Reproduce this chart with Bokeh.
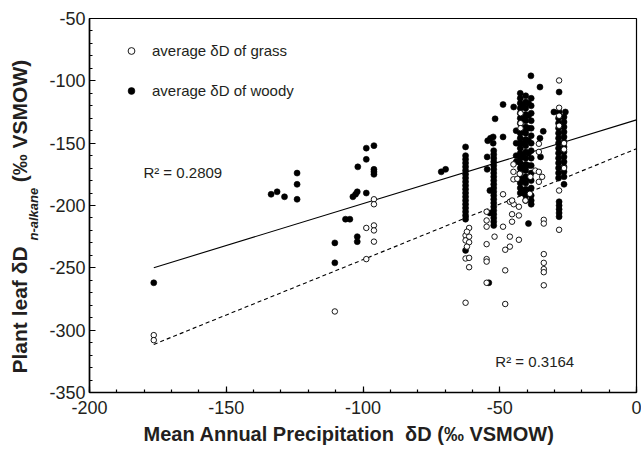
import numpy as np
from bokeh.plotting import figure
from bokeh.models import Label, Legend, LegendItem, FixedTicker, Range1d, Title
from bokeh.embed import file_html
from bokeh.resources import INLINE

# ---------------- data ----------------
woody_x = [
    -176.5,
    -133.6, -131.4, -128.7, -124.1, -124.1, -124.1,
    -110.3, -110.3, -106.4, -104.8, -103.7, -102.7, -102.1, -101.9, -102.1, -102.1,
    -98.8, -98.8, -98.8, -96.0, -96.0, -96.0, -96.0,
    -71.4, -69.8,
    -62.5, -62.5, -62.5, -62.5, -62.5, -62.5, -62.5, -62.5, -62.5, -62.5,
    -62.5, -62.5, -62.5, -62.5, -62.5, -62.5, -62.5, -62.5, -62.5, -62.5,
    -54.6, -54.6, -54.4, -53.4, -52.4, -52.4, -53.6, -53.6, -54.0, -51.7,
    -52.2, -52.2, -52.2, -52.2, -52.2, -52.2, -52.2, -52.2, -52.2, -52.2, -52.2,
    -52.2, -52.2, -52.2, -52.2, -52.2, -52.2, -52.2, -52.2, -52.2, -52.2,
    -48.8, -48.8, -44.9, -38.6, -35.3, -34.1, -35.3, -35.1, -39.5,
    -44.0, -44.0, -44.0, -44.0,
    -42.5, -42.5, -42.5, -42.5, -42.5, -42.5, -42.5, -42.5, -42.5, -42.5,
    -42.5, -42.5, -42.5, -42.5, -42.5, -42.5, -42.5, -42.5, -42.5, -42.5,
    -41.5, -41.5, -41.5, -41.5, -41.5, -41.5, -41.5, -41.5,
    -40.5, -40.5, -40.5, -40.5, -40.5, -40.5, -40.5, -40.5, -40.5,
    -40.5, -40.5, -40.5, -40.5, -40.5, -40.5, -40.5, -40.5, -40.5,
    -39.5, -39.5, -39.5, -39.5, -39.5, -39.5, -39.5, -39.5,
    -38.5, -38.5, -38.5, -38.5, -38.5, -38.5, -38.5, -38.5,
    -38.5, -38.5, -38.5, -38.5, -38.5, -38.5, -38.5, -38.5,
    -28.3, -30.2, -28.3, -26.0,
    -28.5, -28.5, -28.5, -28.5, -28.5, -28.5, -28.5, -28.5, -28.5, -28.5, -28.5, -28.5, -28.5,
    -26.5, -26.5, -26.5, -26.5, -26.5, -26.5, -26.5, -26.5, -26.5, -26.5, -26.5, -26.5, -26.5, -26.5,
    -28.3, -28.3, -28.3, -28.3, -28.3,
]
woody_y = [
    -262,
    -191, -189, -193, -174, -183, -195,
    -230, -246, -211, -211, -193, -191, -189, -169, -225, -229,
    -154, -163, -190, -152, -171, -173, -175,
    -173, -171,
    -153, -160, -163, -166, -169, -172, -175, -178, -181, -184,
    -187, -190, -193, -196, -199, -202, -205, -208, -211, -236,
    -161, -171, -148, -146, -145, -150, -188, -206, -262, -130.5,
    -156, -159, -162, -165, -168, -171, -174, -177, -180, -183, -186,
    -189, -192, -195, -198, -201, -204, -207, -210, -213, -216,
    -119, -145, -121, -96, -105, -140.5, -146, -161, -214.5,
    -140, -150, -160, -165,
    -110, -114, -118, -122, -126, -130, -134, -142, -146, -150,
    -154, -158, -162, -166, -170, -174, -178, -182, -186, -190,
    -120, -130, -140, -150, -160, -170, -180, -190,
    -112, -117, -122, -127, -132, -137, -142, -147, -152,
    -157, -162, -167, -172, -177, -182, -187, -192, -196,
    -118, -128, -138, -148, -158, -168, -178, -188,
    -114, -120, -126, -132, -138, -144, -150, -156,
    -162, -168, -174, -180, -186, -192, -196, -199,
    -109, -125, -125, -125,
    -130, -134, -138, -142, -146, -150, -154, -158, -162, -166, -170, -174, -178,
    -129, -133, -137, -141, -145, -149, -153, -157, -161, -165, -169, -173, -177, -183,
    -197, -200, -203, -206, -209,
]

grass_x = [
    -176.5, -176.5,
    -110.3,
    -98.8, -98.8, -96.0, -96.0, -96.0, -96.0, -96.0,
    -61.2, -62.5, -61.2, -62.5, -61.2, -62.5, -61.2, -61.2, -62.5, -62.0, -62.0,
    -54.8, -54.8, -54.8, -54.8, -54.8, -54.8, -54.8,
    -51.9,
    -48.8, -48.8, -48.0, -48.0, -48.0,
    -46.3, -46.3, -46.3,
    -45.0, -45.0, -45.0, -44.9, -45.5, -45.5, -45.5,
    -43.0, -43.0, -43.0, -43.6, -42.7,
    -42.4, -42.4, -42.4,
    -40.6, -39.0, -38.8, -37.0,
    -35.7, -35.7, -35.7, -35.7, -34.5,
    -33.9, -33.9, -33.9, -33.9, -33.9, -33.9, -33.9,
    -28.3, -28.3, -28.3, -28.3, -26.5, -26.5, -26.5, -28.3, -28.3,
]
grass_y = [
    -304, -308,
    -285,
    -218, -243, -195, -199, -216, -220, -229,
    -218, -224, -225, -228, -229.5, -242.5, -242, -249.5, -278, -221, -233,
    -205, -212, -217, -231, -243, -245, -262,
    -225,
    -191, -217, -235.5, -252, -279,
    -225, -233, -197,
    -167, -173, -179, -199, -196, -207, -213,
    -201, -208, -227.5, -178.6, -174.6,
    -126, -134, -138,
    -196, -190.6, -177, -172,
    -150.5, -157, -173, -181, -177,
    -211.5, -214.5, -239, -246, -251, -253.5, -264,
    -99.7, -121.6, -128, -136, -150, -155, -170, -188, -219.5,
]

x_ticks = [-200, -150, -100, -50, 0]
y_ticks = [-350, -300, -250, -200, -150, -100, -50]

woody_slope, woody_intercept = 0.672, -131.3
grass_slope, grass_intercept = 0.889, -154.5
woody_r2 = "R² = 0.2809"
grass_r2 = "R² = 0.3164"

x_title = "Mean Annual Precipitation\u00a0\u00a0δD (‰ VSMOW)"
y_title = "Plant leaf δD" + "\u00a0" * 11 + "(‰ VSMOW)"
y_subscript = "n-alkane"

FONT = "Liberation Sans"
INK = "#231f20"

# ---------------- main plot ----------------
p = figure(width=641, height=450, x_range=Range1d(-200, 0), y_range=Range1d(-350, -50),
           output_backend="svg", toolbar_location=None,
           min_border_left=89, min_border_right=5, min_border_top=18, min_border_bottom=58)
p.xgrid.visible = False
p.ygrid.visible = False
p.outline_line_color = "black"
p.outline_line_width = 1.2
p.background_fill_color = "white"
p.border_fill_color = "white"

p.xaxis.ticker = FixedTicker(ticks=x_ticks, minor_ticks=list(range(-200, 1, 10)))
p.yaxis.ticker = FixedTicker(ticks=y_ticks, minor_ticks=list(range(-350, -49, 10)))
p.xaxis.major_label_overrides = {t: str(t) for t in x_ticks}
p.yaxis.major_label_overrides = {t: str(t) for t in y_ticks}
for ax in (p.xaxis, p.yaxis):
    ax.axis_line_width = 1.6
    ax.axis_line_color = "black"
    ax.major_tick_in = 6
    ax.major_tick_out = 0
    ax.minor_tick_in = 3
    ax.minor_tick_out = 0
    ax.major_tick_line_width = 1.2
    ax.minor_tick_line_width = 1.2
    ax.major_tick_line_color = "black"
    ax.minor_tick_line_color = "black"
    ax.major_label_text_font = FONT
    ax.major_label_text_font_size = "18px"
    ax.major_label_text_color = INK
p.xaxis.major_label_standoff = 8
p.yaxis.major_label_standoff = 4

# x title as the axis label (trailing no-break spaces shift the visible text left)
p.xaxis.axis_label = x_title + "\u00a0" * 5
p.xaxis.axis_label_standoff = 6
p.xaxis.axis_label_text_font = FONT
p.xaxis.axis_label_text_font_size = "20px"
p.xaxis.axis_label_text_font_style = "bold"
p.xaxis.axis_label_text_color = INK

# regression lines
line_x = np.array([min(woody_x), 0.0])
p.line(line_x, woody_slope * line_x + woody_intercept, line_color="black", line_width=1.1)
p.line(line_x, grass_slope * line_x + grass_intercept, line_color="black", line_width=1.1,
       line_dash="4 3")

# points
r_w = p.scatter(woody_x, woody_y, size=6, marker="circle", fill_color="black", line_color="black",
                line_width=0.6)
r_g = p.scatter(grass_x, grass_y, size=5.5, marker="circle", fill_color="white", line_color="black",
                line_width=0.9)

legend = Legend(items=[LegendItem(label="average δD of grass", renderers=[r_g]),
                       LegendItem(label="average δD of woody", renderers=[r_w])],
                location="top_left", margin=0, padding=24, glyph_width=36, glyph_height=17,
                label_height=17, label_standoff=3, spacing=23,
                background_fill_alpha=0, border_line_alpha=0,
                label_text_font=FONT, label_text_font_size="15px", label_text_color=INK)
p.add_layout(legend)

# R² labels
p.add_layout(Label(x=-180.3, y=-173.5, text=woody_r2, text_font=FONT, text_font_size="15px",
                   text_align="left", text_baseline="middle", text_color=INK))
p.add_layout(Label(x=-51.6, y=-324.9, text=grass_r2, text_font=FONT, text_font_size="15px",
                   text_align="left", text_baseline="middle", text_color=INK))

# y title (main text and subscript)
p.add_layout(Title(text=y_subscript, align="left", offset=152, standoff=11, text_font=FONT,
                   text_font_size="13px", text_font_style="bold italic", text_color=INK), "left")
p.add_layout(Title(text=y_title, align="left", offset=19, standoff=-25.5, text_font=FONT,
                   text_font_size="21px", text_font_style="bold", text_color=INK), "left")

open("out.html", "w").write(file_html(p, INLINE))
